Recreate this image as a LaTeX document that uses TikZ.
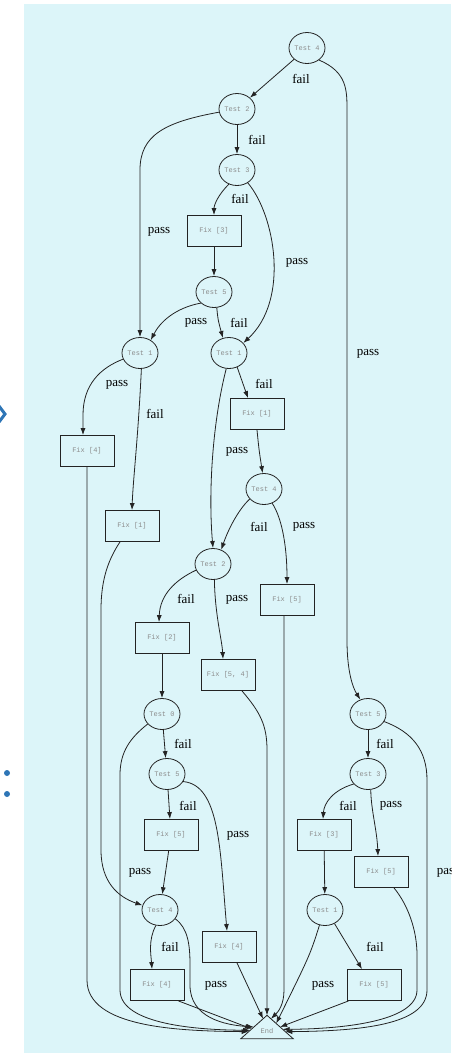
\documentclass[tikz,border=0pt]{standalone}
\usepackage{fontspec}
\usetikzlibrary{shapes.geometric,arrows.meta,calc}
\newfontfamily\lblfamily{Liberation Serif}
\newfontfamily\monofamily{Liberation Mono}
\definecolor{bgc}{RGB}{220,245,249}
\definecolor{linec}{RGB}{35,35,35}
\definecolor{nodegray}{RGB}{140,140,140}
\definecolor{slideblue}{RGB}{46,117,182}
\tikzset{
  edge/.style={draw=linec, line width=0.8pt, -{Latex[length=7pt,width=5pt]}},
  testnode/.style={ellipse, draw=linec, line width=0.8pt, minimum width=36pt, minimum height=31pt, inner sep=0pt, font=\monofamily\fontsize{7}{8}\selectfont, text=nodegray},
  fixnode/.style={rectangle, draw=linec, line width=0.8pt, minimum width=54pt, minimum height=31pt, inner sep=0pt, font=\monofamily\fontsize{7}{8}\selectfont, text=nodegray},
  endbox/.style={rectangle, draw=none, minimum width=52pt, minimum height=23pt, inner sep=0pt},
  endtext/.style={font=\monofamily\fontsize{7}{8}\selectfont, text=nodegray, inner sep=0pt},
  lbl/.style={font=\lblfamily\fontsize{13}{15}\selectfont, text=black, inner sep=0pt},
}
\begin{document}
\begin{tikzpicture}[x=1pt,y=-1pt]
\useasboundingbox (0,0) rectangle (451,1053);
\fill[bgc] (24,4) rectangle (451,1053);
% slide artifacts
\draw[slideblue, line width=3pt] (-1,406) -- (5,414) -- (-1,422);
\fill[slideblue] (7,773) circle (3);
\fill[slideblue] (7,794) circle (3);

% nodes
\node[testnode] (t4a) at (307,48) {Test 4};
\node[testnode] (t2a) at (237,109) {Test 2};
\node[testnode] (t3a) at (237,170) {Test 3};
\node[fixnode]  (f3a) at (214,231) {Fix [3]};
\node[testnode] (t5a) at (214,292) {Test 5};
\node[testnode] (t1a) at (140,353) {Test 1};
\node[testnode] (t1b) at (229,353) {Test 1};
\node[fixnode]  (f1)  at (257,414) {Fix [1]};
\node[fixnode]  (f4a) at (87,451) {Fix [4]};
\node[fixnode]  (f1b) at (132,526) {Fix [1]};
\node[testnode] (t4b) at (264,489) {Test 4};
\node[testnode] (t2b) at (213,564) {Test 2};
\node[fixnode]  (f5a) at (287,600) {Fix [5]};
\node[fixnode]  (f2)  at (162,638) {Fix [2]};
\node[fixnode]  (f54) at (228,675) {Fix [5, 4]};
\node[testnode] (t0)  at (162,714) {Test 0};
\node[testnode] (t5b) at (167,774) {Test 5};
\node[testnode] (t5c) at (368,714) {Test 5};
\node[testnode] (t3b) at (368,774) {Test 3};
\node[fixnode]  (f5b) at (171,835) {Fix [5]};
\node[fixnode]  (f3b) at (324,835) {Fix [3]};
\node[fixnode]  (f5c) at (381,872) {Fix [5]};
\node[testnode] (t4c) at (160,910) {Test 4};
\node[testnode] (t1c) at (325,910) {Test 1};
\node[fixnode]  (f4c) at (229,947) {Fix [4]};
\node[fixnode]  (f4b) at (157,985) {Fix [4]};
\node[fixnode]  (f5d) at (374,985) {Fix [5]};
\node[endbox]   (endn) at (267,1027) {};
\draw[linec, line width=0.8pt] (endn.south west) -- (endn.north) -- (endn.south east) -- cycle;
\node[endtext]  (endl) at (267,1031) {End};

% edges
\draw[edge] (t4a) -- (t2a);
\draw[edge] (t4a.-45) .. controls (347,72) and (347,90) .. (347,110) -- (347,640) .. controls (347,672) and (353,688) .. (t5c.118);
\draw[edge] (t2a) -- (t3a);
\draw[edge] (t2a.190) .. controls (165,122) and (140,135) .. (140,170) -- (t1a.north);
\draw[edge] (t3a.240) .. controls (218,195) and (214,205) .. (f3a.north);
\draw[edge] (t3a.-50) .. controls (275,215) and (290,300) .. (t1b.35);
\draw[edge] (f3a) -- (t5a);
\draw[edge] (t5a.220) .. controls (175,308) and (160,322) .. (t1a.50);
\draw[edge] (t5a.-80) .. controls (218,320) .. (t1b.112);
\draw[edge] (t1a.200) .. controls (100,368) and (83,385) .. (83,415) -- ([xshift=-4pt]f4a.north);
\draw[edge] (t1a.-85) .. controls (138,440) and (133,480) .. (f1b.north);
\draw[edge] (t1b.-60) -- ([xshift=-9pt]f1.north);
\draw[edge] (t1b.-100) .. controls (213,420) and (208,490) .. (t2b.north);
\draw[edge] (f1.south) .. controls (259,450) .. (t4b.95);
\draw[edge] (t4b.215) .. controls (238,510) and (228,530) .. (t2b.60);
\draw[edge] (t4b.-60) .. controls (283,520) and (287,550) .. (f5a.north);
\draw[edge] (t2b.200) .. controls (175,580) and (160,595) .. ([xshift=-3pt]f2.north);
\draw[edge] (t2b.-85) .. controls (215,615) and (222,640) .. ([xshift=-5pt]f54.north);
\draw[edge] (f2) -- (t0);
\draw[edge] (t0) -- (t5b);
\draw[edge] (t0.215) .. controls (130,738) and (120,752) .. (120,775) -- (120,990) .. controls (120,1025) and (200,1030) .. ($(endn.south west)!0.36!(endn.north)$);
\draw[edge] (t5b) -- (f5b);
\draw[edge] (t5b.-25) .. controls (220,785) and (220,850) .. ([xshift=-2pt]f4c.north);
\draw[edge] (f5b) -- (t4c);
\draw[edge] (t4c.-105) .. controls (148,940) and (151,955) .. ([xshift=-5pt]f4b.north);
\draw[edge] (t4c.-30) .. controls (188,928) and (190,945) .. (190,965) -- (190,985) .. controls (190,1018) and (225,1025) .. ($(endn.south west)!0.5!(endn.north)$);
\draw[edge] ([xshift=-6pt]f4b.south east) -- ($(endn.south west)!0.42!(endn.north)$);
\draw[edge] ([xshift=8pt]f4c.south) -- ($(endn.south west)!0.85!(endn.north)$);
\draw[edge] (f4a.south) -- (87,980) .. controls (87,1028) and (180,1031) .. ($(endn.south west)!0.3!(endn.north)$);
\draw[edge] ([xshift=-12pt]f1b.south) .. controls (108,560) and (101,580) .. (101,610) -- (101,850) .. controls (101,882) and (118,897) .. (t4c.165);
\draw[edge] ([xshift=14pt]f54.south) .. controls (260,712) and (267,725) .. (267,750) -- (endn.north);
\draw[edge] ([xshift=-3pt]f5a.south) -- (284,990) .. controls (284,1005) and (278,1012) .. ($(endn.south east)!0.85!(endn.north)$);
\draw[edge] (t5c) -- (t3b);
\draw[edge] (t5c.-25) .. controls (412,732) and (427,750) .. (427,780) -- (427,990) .. controls (427,1025) and (360,1031) .. ($(endn.south east)!0.3!(endn.north)$);
\draw[edge] (t3b.215) .. controls (333,790) and (324,803) .. ([xshift=-1pt]f3b.north);
\draw[edge] (t3b.-80) .. controls (371,810) and (377,830) .. ([xshift=-3pt]f5c.north);
\draw[edge] (f3b) -- (t1c);
\draw[edge] (t1c.-110) .. controls (310,955) .. ($(endn.south east)!0.65!(endn.north)$);
\draw[edge] (t1c.-55) -- ([xshift=-12pt]f5d.north);
\draw[edge] ([xshift=2pt]f5d.south west) -- ($(endn.south east)!0.5!(endn.north)$);
\draw[edge] ([xshift=13pt]f5c.south) .. controls (408,905) and (417,930) .. (417,955) -- (417,990) .. controls (417,1022) and (340,1029) .. ($(endn.south east)!0.4!(endn.north)$);

% edge labels
\node[lbl] (l1) at (301,79) {fail};
\node[lbl] (l2) at (257,140) {fail};
\node[lbl] (l3) at (240,199) {fail};
\node[lbl] (l4) at (159,232) {pass};
\node[lbl] (l5) at (297,263) {pass};
\node[lbl] (l6) at (196,323) {pass};
\node[lbl] (l7) at (239,323) {fail};
\node[lbl] (l8) at (368,354) {pass};
\node[lbl] (l9) at (117,385) {pass};
\node[lbl] (l10) at (264,384) {fail};
\node[lbl] (l11) at (155,414) {fail};
\node[lbl] (l12) at (237,452) {pass};
\node[lbl] (l13) at (259,527) {fail};
\node[lbl] (l14) at (304,527) {pass};
\node[lbl] (l15) at (186,599) {fail};
\node[lbl] (l16) at (237,600) {pass};
\node[lbl] (l17) at (183,744) {fail};
\node[lbl] (l18) at (385,744) {fail};
\node[lbl] (l19) at (188,806) {fail};
\node[lbl] (l20) at (348,806) {fail};
\node[lbl] (l21) at (391,806) {pass};
\node[lbl] (l22) at (238,836) {pass};
\node[lbl] (l23) at (140,873) {pass};
\node[lbl] (l24) at (448,873) {pass};
\node[lbl] (l25) at (170,947) {fail};
\node[lbl] (l26) at (375,947) {fail};
\node[lbl] (l27) at (216,986) {pass};
\node[lbl] (l28) at (323,986) {pass};
\end{tikzpicture}
\end{document}
